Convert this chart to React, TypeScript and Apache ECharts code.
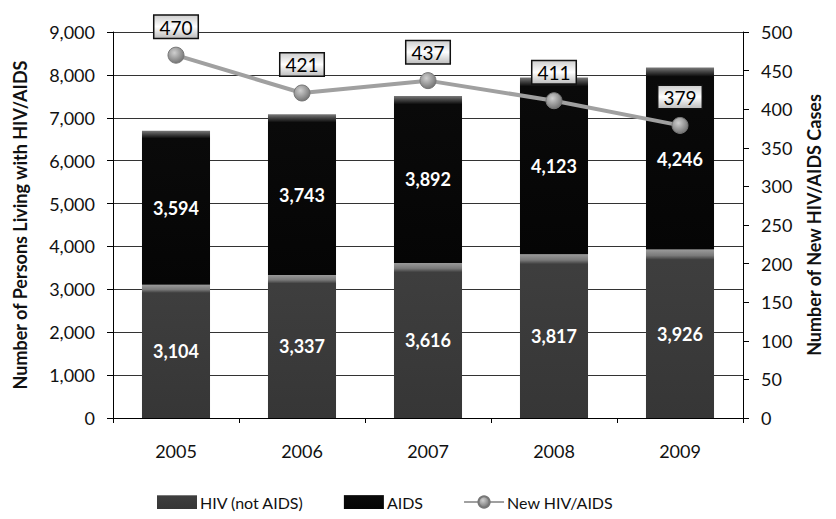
import React, { useEffect, useRef } from "react";
import * as echarts from "echarts";

const years = ["2005", "2006", "2007", "2008", "2009"];
const hivNotAids = [3104, 3337, 3616, 3817, 3926];
const aids = [3594, 3743, 3892, 4123, 4246];
const newCases = [470, 421, 437, 411, 379];

const FONT = "Lato, 'Open Sans', sans-serif";

export default function App() {
  const ref = useRef<HTMLDivElement>(null);
  useEffect(() => {
    if (!ref.current) return;
    const chart = echarts.init(ref.current, null, { renderer: "svg" });
    const hivColor = new echarts.graphic.LinearGradient(0, 0, 0, 1, [
      { offset: 0, color: "#9a9a9a" },
      { offset: 0.035, color: "#7a7a7a" },
      { offset: 0.06, color: "#3e3e3e" },
      { offset: 1, color: "#363636" },
    ]);
    const aidsColor = new echarts.graphic.LinearGradient(0, 0, 0, 1, [
      { offset: 0, color: "#7a7a7a" },
      { offset: 0.025, color: "#404040" },
      { offset: 0.05, color: "#0a0a0a" },
      { offset: 1, color: "#050505" },
    ]);
    const markerColor = new echarts.graphic.RadialGradient(0.4, 0.35, 0.7, [
      { offset: 0, color: "#cfcfcf" },
      { offset: 1, color: "#6f6f6f" },
    ]);
    const labelBg = new echarts.graphic.LinearGradient(0, 0, 0, 1, [
      { offset: 0, color: "#d0d0d0" },
      { offset: 0.5, color: "#ffffff" },
      { offset: 1, color: "#c0c0c0" },
    ]);
    const numFmt = (p: any) => Number(p.value).toLocaleString("en-US");
    chart.setOption({
      animation: false,
      textStyle: { fontFamily: FONT },
      grid: { left: 113, right: 93, top: 32, bottom: 101, containLabel: false },
      legend: {
        bottom: 4,
        left: 152,
        itemGap: 40,
        itemWidth: 40,
        itemHeight: 14,
        textStyle: { fontSize: 16, color: "#111", fontFamily: FONT, padding: [0, 0, 0, -2] },
        data: [
          { name: "HIV (not AIDS)", icon: "rect" },
          { name: "AIDS", icon: "rect" },
          { name: "New HIV/AIDS" },
        ],
      },
      xAxis: {
        type: "category",
        data: years,
        boundaryGap: true,
        axisLine: { lineStyle: { color: "#000", width: 1 } },
        axisTick: { show: true, alignWithLabel: false, length: 5, lineStyle: { color: "#000" } },
        axisLabel: { fontSize: 18, color: "#111", margin: 24, fontFamily: FONT },
      },
      yAxis: [
        {
          type: "value",
          min: 0,
          max: 9000,
          interval: 1000,
          name: "Number of Persons Living with HIV/AIDS",
          nameLocation: "middle",
          nameGap: 84,
          nameTextStyle: { fontSize: 18, fontWeight: "bold", color: "#111", fontFamily: FONT },
          axisLine: { show: true, lineStyle: { color: "#000" } },
          axisTick: { show: true, length: 6, lineStyle: { color: "#000" } },
          axisLabel: {
            fontSize: 18,
            color: "#111",
            margin: 18,
            fontFamily: FONT,
            formatter: (v: number) => v.toLocaleString("en-US"),
          },
          splitLine: { show: true, lineStyle: { color: "#333", width: 1 } },
        },
        {
          type: "value",
          min: 0,
          max: 500,
          interval: 50,
          name: "Number of New HIV/AIDS Cases",
          nameLocation: "middle",
          nameGap: 62,
          nameRotate: 90,
          nameTextStyle: { fontSize: 18, fontWeight: "bold", color: "#111", fontFamily: FONT },
          axisLine: { show: true, lineStyle: { color: "#000" } },
          axisTick: { show: true, length: 6, lineStyle: { color: "#000" } },
          axisLabel: { fontSize: 18, color: "#111", margin: 18, fontFamily: FONT },
          splitLine: { show: false },
        },
      ],
      series: [
        {
          name: "HIV (not AIDS)",
          type: "bar",
          stack: "total",
          barWidth: "54%",
          data: hivNotAids,
          itemStyle: { color: hivColor },
          label: {
            show: true,
            position: "inside",
            color: "#fff",
            fontSize: 18,
            fontWeight: "bold",
            fontFamily: FONT,
            formatter: numFmt,
          },
        },
        {
          name: "AIDS",
          type: "bar",
          stack: "total",
          barWidth: "54%",
          data: aids,
          itemStyle: { color: aidsColor },
          label: {
            show: true,
            position: "inside",
            color: "#fff",
            fontSize: 18,
            fontWeight: "bold",
            fontFamily: FONT,
            formatter: numFmt,
          },
        },
        {
          name: "New HIV/AIDS",
          type: "line",
          yAxisIndex: 1,
          data: newCases,
          symbol: "circle",
          symbolSize: 16,
          lineStyle: { color: "#a0a0a0", width: 4 },
          itemStyle: { color: markerColor, borderColor: "#777", borderWidth: 1 },
          label: {
            show: true,
            position: "top",
            distance: 9,
            color: "#000",
            fontSize: 19,
            fontFamily: FONT,
            backgroundColor: labelBg,
            borderColor: "#111",
            borderWidth: 1.5,
            padding: [2, 5, 1, 5],
          },
          z: 5,
        },
      ],
    });
    return () => chart.dispose();
  }, []);
  return <div ref={ref} style={{ width: 836, height: 519, position: "absolute", left: 0, top: 0, background: "#fff" }} />;
}
